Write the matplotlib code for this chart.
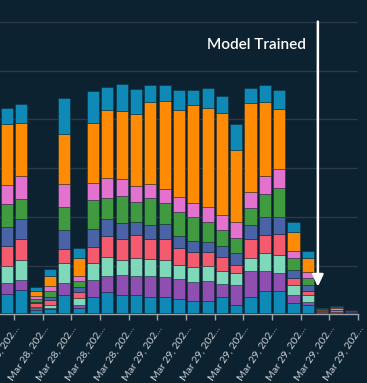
import numpy as np
import matplotlib
matplotlib.use("Agg")
import matplotlib.pyplot as plt

plt.rcParams['font.family'] = ['Lato', 'DejaVu Sans']

# stacked counts per hourly bin (bottom -> top)
base = [0.3, 0.3, 0.3, 0.3, 0.3, 0.3, 0.3, 0.3, 0.3, 0.3, 0.3, 0.3, 0.3,
        0.3, 0.3, 0.3, 0.3, 0.3, 0.3, 0.3, 0.3, 0.3, 0.1, 0.1, 0.1]
teal_low = [3.8, 4.7, 0.6, 0.75, 3.7, 0.9, 3.35, 4.3, 3.7, 3.65, 3.15, 3.35, 2.8,
            2.5, 2.5, 3.35, 1.65, 3.2, 4.45, 4.45, 2.05, 1.65, 0.1, 0.1, 0.05]
purple = [2.4, 2.1, 0.3, 0.3, 2.5, 0.8, 3.3, 3.35, 4.0, 3.9, 4.5, 4.0, 4.1,
          3.9, 4.1, 2.6, 4.1, 5.4, 4.15, 3.7, 1.7, 0.55, 0.05, 0.1, 0.1]
mint = [3.5, 4.0, 0.35, 0.55, 4.0, 1.4, 3.55, 3.9, 3.15, 3.7, 3.35, 3.55, 2.95,
        3.1, 3.1, 2.65, 2.5, 2.6, 3.65, 3.75, 1.9, 1.4, 0.15, 0.2, 0.05]
red = [4.1, 4.3, 0.75, 0.95, 2.9, 1.1, 3.4, 4.3, 4.3, 4.7, 4.1, 4.25, 3.55,
       3.0, 2.8, 2.95, 1.6, 3.9, 3.75, 4.3, 1.5, 0.9, 0.2, 0.3, 0.25]
slate = [3.8, 4.1, 0.3, 0.75, 3.9, 1.15, 3.65, 3.35, 3.3, 2.8, 3.0, 3.0, 2.4,
         2.25, 2.1, 2.25, 2.45, 2.95, 3.75, 3.55, 1.7, 1.3, 0.05, 0.1, 0.05]
green = [4.8, 4.1, 0.5, 1.15, 4.8, 1.1, 5.95, 4.45, 5.6, 4.0, 5.55, 4.4, 4.9,
         4.9, 4.0, 3.2, 3.1, 3.55, 4.65, 5.85, 2.4, 1.25, 0.1, 0.05, 0.0]
pink = [3.8, 4.8, 0.6, 1.15, 4.6, 1.15, 3.45, 4.1, 3.45, 3.2, 2.75, 2.9, 3.0,
        2.8, 3.2, 3.1, 3.2, 3.3, 3.75, 3.9, 1.5, 1.25, 0.15, 0.4, 0.25]
orange = [12.5, 10.9, 1.1, 2.0, 10.3, 3.75, 12.4, 13.9, 13.9, 14.8, 16.9, 18.1, 17.9,
          20.2, 20.2, 20.9, 14.8, 18.15, 15.2, 12.3, 3.75, 2.9, 0.2, 0.1, 0.0]
teal_top = [3.4, 3.9, 0.9, 1.45, 7.5, 2.05, 6.5, 4.65, 5.5, 5.2, 3.5, 3.3, 4.1,
            3.2, 4.15, 3.5, 5.4, 3.15, 3.4, 3.9, 2.05, 1.5, 0.1, 0.3, 0.1]

tick_labels = ["Mar 28, 202…", "Mar 28, 202…", "Mar 28, 202…", "Mar 28, 202…",
               "Mar 28, 202…", "Mar 29, 202…", "Mar 29, 202…", "Mar 29, 202…",
               "Mar 29, 202…", "Mar 29, 202…", "Mar 29, 202…", "Mar 29, 202…",
               "Mar 29, 202…"]
trained_at = 21.7
trained_y = 5.67

series = [base, teal_low, purple, mint, red, slate, green, pink, orange, teal_top]
colors = ["#f5b77f", "#0f8ab6", "#8e4fb0", "#80d8bb", "#f45b6e",
          "#4a62a6", "#3f9a40", "#e272cd", "#ff8b04", "#0f8ab6"]

bg = "#0c2230"
fig = plt.figure(figsize=(3.67, 3.83), dpi=100, facecolor=bg)
ax = fig.add_axes([0, 0.1794, 358 / 367, 0.7684], facecolor=bg)

x = np.arange(len(base))
bottom = np.zeros(len(base))
for vals, c in zip(series, colors):
    ax.bar(x, vals, bottom=bottom, width=0.84, color=c,
           edgecolor=(0.03, 0.12, 0.17, 0.45), linewidth=0.6, zorder=3)
    bottom += np.array(vals)

ax.set_xlim(-0.48, 24.5)
ax.set_ylim(0, 60.43)
ax.set_yticks([10, 20, 30, 40, 50, 60])
ax.yaxis.grid(True, color="#293b49", linewidth=1, zorder=0)
ax.tick_params(axis='y', left=False, labelleft=False)

ax.set_xticks(np.arange(0.5, 25, 2))
ax.set_xticklabels(tick_labels, rotation=56, ha='right', va='top',
                   rotation_mode='anchor', fontsize=7.5, color="#c9ced3")
ax.tick_params(axis='x', color="#9aa3aa", length=4, width=1, pad=3)

for s in ['top', 'right', 'left']:
    ax.spines[s].set_visible(False)
ax.spines['bottom'].set_color("#9aa3aa")
ax.spines['bottom'].set_linewidth(1)

ax.annotate("", xy=(trained_at, trained_y), xytext=(trained_at, 60.1),
            arrowprops=dict(arrowstyle='-|>,head_length=0.7,head_width=0.33',
                            color='white', lw=1.8, shrinkA=0, shrinkB=0,
                            mutation_scale=10),
            annotation_clip=False, zorder=5)
ax.text(trained_at - 0.85, 55.3, "Model Trained", color='white', fontsize=11,
        fontweight='semibold', ha='right', va='center', zorder=5)

fig.savefig("out.png", dpi=100, facecolor=bg)
